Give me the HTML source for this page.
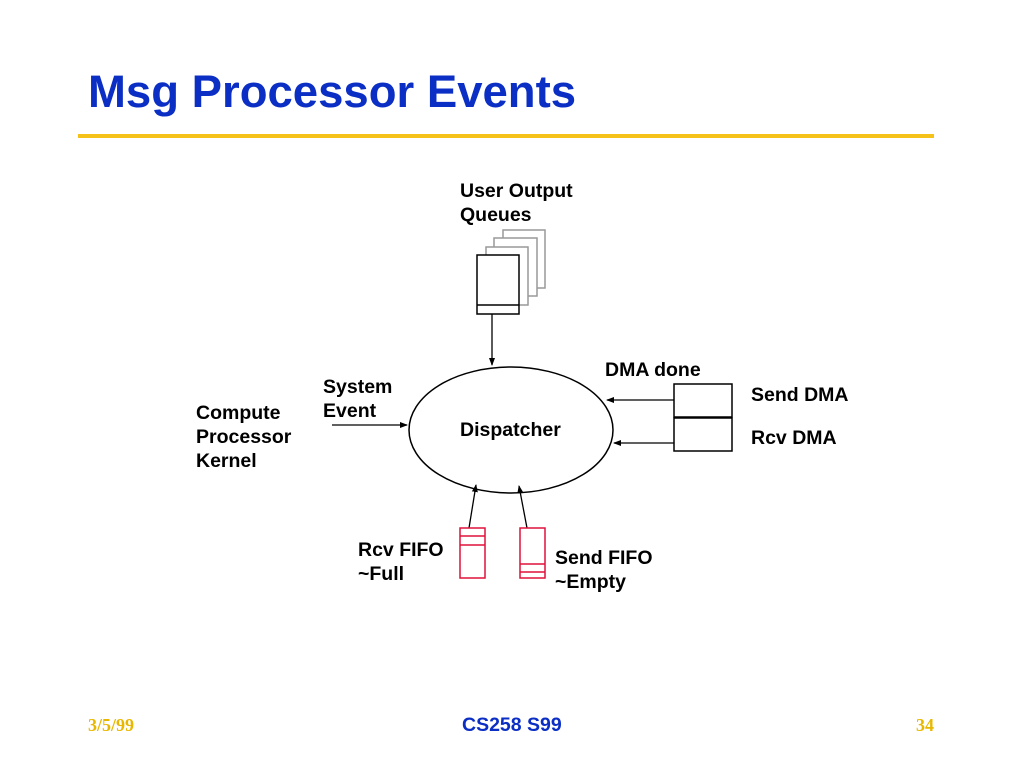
<!DOCTYPE html>
<html><head><style>
body{margin:0;width:1024px;height:768px;background:#fff;overflow:hidden;position:relative;font-family:"Liberation Sans",sans-serif;}
.t{position:absolute;font-weight:bold;font-size:19.5px;color:#000;line-height:24px;white-space:nowrap}
</style></head><body>
<div style="position:absolute;left:88px;top:64px;font-size:45.5px;font-weight:bold;color:#0b2fc4;line-height:56px;white-space:nowrap">Msg Processor Events</div>
<div style="position:absolute;left:78px;top:134px;width:856px;height:4px;background:#f5c21a"></div>
<svg width="1024" height="768" style="position:absolute;left:0;top:0">
<defs><marker id="a" markerWidth="8" markerHeight="8" refX="7" refY="4" orient="auto" markerUnits="userSpaceOnUse"><path d="M0,1 L8,4 L0,7z" fill="#000"/></marker></defs>
<g fill="#fff" stroke="#999" stroke-width="1.5">
<rect x="503" y="230" width="42" height="58"/>
<rect x="494" y="238" width="43" height="58"/>
<rect x="486" y="247" width="42" height="58"/>
</g>
<g fill="#fff" stroke="#000" stroke-width="1.5">
<rect x="477" y="255" width="42" height="59"/>
<line x1="477" y1="305" x2="519" y2="305"/>
<ellipse cx="511" cy="430" rx="102" ry="63"/>
<rect x="674" y="384" width="58" height="33"/>
<rect x="674" y="418" width="58" height="33"/>
</g>
<g stroke="#000" stroke-width="1.3" marker-end="url(#a)">
<line x1="492" y1="314" x2="492" y2="365"/>
<line x1="332" y1="425" x2="407" y2="425"/>
<line x1="674" y1="400" x2="607" y2="400"/>
<line x1="674" y1="443" x2="614" y2="443"/>
<line x1="469" y1="528" x2="476" y2="485"/>
<line x1="527" y1="528" x2="519" y2="486"/>
</g>
<g fill="#fff" stroke="#e0103a" stroke-width="1.5">
<rect x="460" y="528" width="25" height="50"/>
<line x1="460" y1="536" x2="485" y2="536"/><line x1="460" y1="545" x2="485" y2="545"/>
<rect x="520" y="528" width="25" height="50"/>
<line x1="520" y1="564" x2="545" y2="564"/><line x1="520" y1="572" x2="545" y2="572"/>
</g>
</svg>
<div class="t" style="left:460px;top:179px">User Output<br>Queues</div>
<div class="t" style="left:323px;top:375px">System<br>Event</div>
<div class="t" style="left:196px;top:401px">Compute<br>Processor<br>Kernel</div>
<div class="t" style="left:460px;top:418px">Dispatcher</div>
<div class="t" style="left:605px;top:358px">DMA done</div>
<div class="t" style="left:751px;top:383px">Send DMA</div>
<div class="t" style="left:751px;top:426px">Rcv DMA</div>
<div class="t" style="left:358px;top:538px">Rcv FIFO<br>~Full</div>
<div class="t" style="left:555px;top:546px">Send FIFO<br>~Empty</div>
<div style="position:absolute;left:88px;top:715px;font-family:'Liberation Serif',serif;font-weight:bold;font-size:18px;color:#e8b800">3/5/99</div>
<div style="position:absolute;left:462px;top:714px;font-weight:bold;font-size:19.5px;color:#0b2fc4">CS258 S99</div>
<div style="position:absolute;left:916px;top:715px;font-family:'Liberation Serif',serif;font-weight:bold;font-size:18px;color:#e8b800">34</div>
</body></html>
